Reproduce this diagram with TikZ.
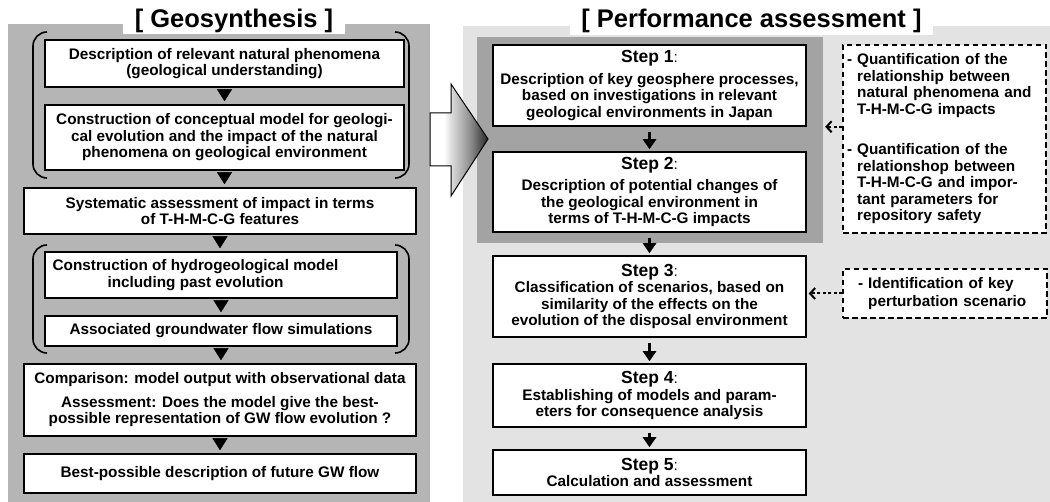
\documentclass[tikz,border=0pt]{standalone}
\usepackage{fontspec}
\setmainfont{Liberation Sans}
\usetikzlibrary{arrows.meta,calc}

\definecolor{geogrey}{gray}{0.71}
\definecolor{pagrey}{gray}{0.89}
\definecolor{stepgrey}{gray}{0.64}

% white shaft, darkening towards the tip
\pgfdeclarehorizontalshading{bigarrow}{100bp}{color(0bp)=(white); color(37bp)=(white);
  color(44bp)=(black!15); color(60bp)=(black!45); color(75bp)=(black!85); color(100bp)=(black!85)}

\newcommand{\steplabel}[1]{{\fontsize{17.5}{19}\selectfont #1}{\mdseries :}}

\begin{document}
\begin{tikzpicture}[x=1pt, y=-1pt,
  box/.style={draw, line width=1.5pt, fill=white, align=center, inner sep=0pt,
    font=\fontsize{15.3}{16.5}\selectfont\bfseries},
  heading/.style={fill=white, inner sep=0pt, font=\fontsize{25.5}{28}\selectfont\bfseries},
  note/.style={draw, dash pattern=on 5.5pt off 3.5pt, line width=1.4pt, fill=white, align=left,
    inner sep=0pt, font=\fontsize{15.3}{16.5}\selectfont\bfseries},
  tri/.style={-{Triangle[width=15pt,length=12pt]}, line width=0.4pt, shorten <=3pt, shorten >=3pt},
  down/.style={-{Triangle[width=13pt,length=10pt]}, line width=2.8pt, shorten <=5pt, shorten >=2pt},
  hint/.style={-{Straight Barb[length=5pt,width=11pt,line width=2pt]}, line width=2pt,
    dash pattern=on 3pt off 2.5pt, shorten >=2pt},
  bracket/.style={line width=1.6pt, rounded corners=14pt}]
\useasboundingbox (0,0) rectangle (1050,502);
\fill[white] (0,0) rectangle (1050,502);

% geosynthesis column
\fill[geogrey] (8,24) rectangle (430,502);
\node[heading, minimum width=222pt, minimum height=26pt] (geotitle) at (234,21) {[ Geosynthesis ]};

\node[box, minimum width=359pt, minimum height=47pt] (natural) at (224.5,63.5)
  {Description of relevant natural phenomena\\(geological understanding)};
\node[box, minimum width=359pt, minimum height=65pt] (concept) at (224.5,137.5)
  {Construction of conceptual model for geologi-\\cal evolution and the impact of the natural\\phenomena on geological environment};
\node[box, minimum width=392pt, minimum height=46pt] (thmcg) at (220,211)
  {Systematic assessment of impact in terms\\of T-H-M-C-G features};
\node[box, minimum width=352pt, minimum height=46pt] (hydro) at (221,275) {};
\node[font=\fontsize{15.3}{16.5}\selectfont\bfseries, align=center, inner sep=0pt] (hydrotext) at (195.5,275)
  {Construction of hydrogeological model\\including past evolution};
\node[box, minimum width=352pt, minimum height=30pt] (gwsim) at (221,331)
  {Associated groundwater flow simulations};
\node[box, minimum width=392pt, minimum height=72pt] (compare) at (220,400)
  {Comparison: model output with observational data\\[7pt]Assessment: Does the model give the best-\\possible representation of GW flow evolution ?};
\node[box, minimum width=392pt, minimum height=39pt] (future) at (220,473.5)
  {Best-possible description of future GW flow};

\draw[bracket] (47,32) -- (33,32) -- (33,178) -- (47,178);
\draw[bracket] (395,32) -- (409,32) -- (409,178) -- (395,178);
\draw[bracket] (47,245) -- (33,245) -- (33,353) -- (47,353);
\draw[bracket] (395,245) -- (409,245) -- (409,353) -- (395,353);

\draw[tri] (natural.south) -- (natural.south |- concept.north);
\draw[tri] (concept.south) -- (concept.south |- thmcg.north);
\draw[tri] (thmcg.south) -- (thmcg.south |- hydro.north);
\draw[tri] (hydro.south) -- (hydro.south |- gwsim.north);
\draw[tri] (gwsim.south) -- (gwsim.south |- compare.north);
\draw[tri] (compare.south) -- (compare.south |- future.north);

% performance assessment column
\fill[pagrey] (463,26) rectangle (1050,502);
\node[heading, minimum width=363pt, minimum height=28pt] (patitle) at (751.5,21) {[ Performance assessment ]};
\node[fill=stepgrey, minimum width=346pt, minimum height=206pt, inner sep=0pt] (geoimpact) at (650,140) {};

% hand-over arrow
\shadedraw[shading=bigarrow, line width=1pt] (430,113) -- (451,113) -- (451,84) -- (488,139)
  -- (451,196) -- (451,166) -- (430,166) -- cycle;

\node[box, minimum width=313pt, minimum height=81pt] (step1) at (649.5,85.5)
  {\steplabel{Step 1}\\[5pt]Description of key geosphere processes,\\based on investigations in relevant\\geological environments in Japan};
\node[box, minimum width=313pt, minimum height=80pt] (step2) at (649.5,192)
  {\steplabel{Step 2}\\[5pt]Description of potential changes of\\the geological environment in\\terms of T-H-M-C-G impacts};
\node[box, minimum width=313pt, minimum height=81pt] (step3) at (649.5,296.5)
  {\steplabel{Step 3}\\Classification of scenarios, based on\\similarity of the effects on the\\evolution of the disposal environment};
\node[box, minimum width=313pt, minimum height=63pt] (step4) at (649.5,395.5)
  {\steplabel{Step 4}\\Establishing of models and param-\\eters for consequence analysis};
\node[box, minimum width=313pt, minimum height=45pt] (step5) at (649.5,472.5)
  {\steplabel{Step 5}\\Calculation and assessment};

\draw[down] (step1) -- (step2);
\draw[down] (step2) -- (step3);
\draw[down] (step3) -- (step4);
\draw[down] (step4) -- (step5);

\node[note, minimum width=203pt, minimum height=188pt, text width=195pt] (quant) at (944.5,139)
  {- Quantification of the\\\hphantom{- }relationship between\\\hphantom{- }natural phenomena and\\\hphantom{- }T-H-M-C-G impacts\\[24pt]
   - Quantification of the\\\hphantom{- }relationshop between\\\hphantom{- }T-H-M-C-G and impor-\\\hphantom{- }tant parameters for\\\hphantom{- }repository safety};
\node[note, minimum width=204pt, minimum height=49pt, text width=174pt] (ident) at (945,293.5)
  {- Identification of key\\[1.5pt]\hphantom{- }perturbation scenario};

\draw[hint] (quant.west |- step1.south) -- (geoimpact.east |- step1.south);
\draw[hint] (ident.west) -- (ident.west -| step3.east);
\end{tikzpicture}
\end{document}
